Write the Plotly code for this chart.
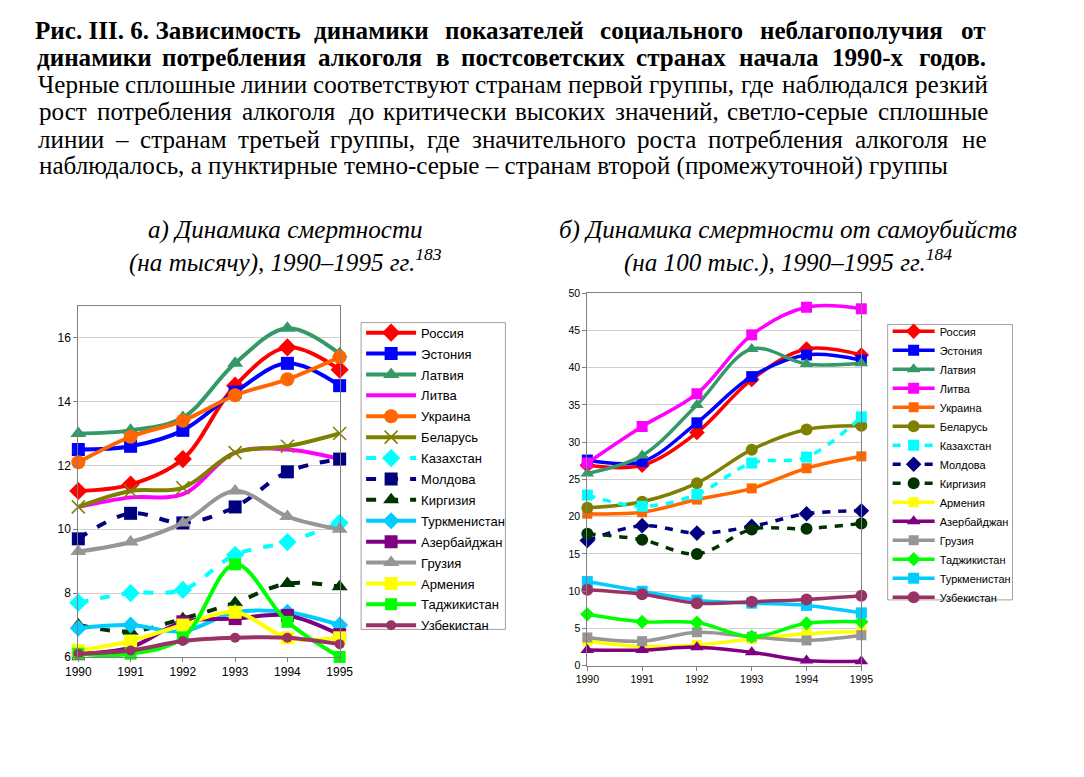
import os
import glob
import plotly.graph_objects as go

# ---------------- DATA ----------------
years = [1990, 1991, 1992, 1993, 1994, 1995]
year_labels = ["1990", "1991", "1992", "1993", "1994", "1995"]

# a) Mortality per 1000
left_countries = ["Россия", "Эстония", "Латвия", "Литва", "Украина", "Беларусь",
                  "Казахстан", "Молдова", "Киргизия", "Туркменистан", "Азербайджан",
                  "Грузия", "Армения", "Таджикистан", "Узбекистан"]
mort_russia = [11.2, 11.4, 12.2, 14.5, 15.7, 15.0]
mort_estonia = [12.5, 12.6, 13.1, 14.3, 15.2, 14.5]
mort_latvia = [13.0, 13.1, 13.5, 15.2, 16.3, 15.5]
mort_lithuania = [10.7, 11.0, 11.1, 12.4, 12.5, 12.2]
mort_ukraine = [12.1, 12.9, 13.4, 14.2, 14.7, 15.4]
mort_belarus = [10.7, 11.2, 11.3, 12.4, 12.6, 13.0]
mort_kazakhstan = [7.7, 8.0, 8.1, 9.2, 9.6, 10.2]
mort_moldova = [9.7, 10.5, 10.2, 10.7, 11.8, 12.2]
mort_kirgizia = [7.0, 6.8, 7.2, 7.7, 8.3, 8.2]
mort_turkmenistan = [6.9, 7.0, 6.8, 7.4, 7.4, 7.0]
mort_azerbaijan = [6.1, 6.3, 7.1, 7.2, 7.3, 6.7]
mort_georgia = [9.3, 9.6, 10.2, 11.2, 10.4, 10.0]
mort_armenia = [6.2, 6.5, 7.0, 7.4, 6.6, 6.6]
mort_tajikistan = [6.1, 6.1, 6.6, 8.9, 7.1, 6.0]
mort_uzbekistan = [6.1, 6.2, 6.5, 6.6, 6.6, 6.4]

# б) Suicide mortality per 100 000
right_countries = ["Россия", "Эстония", "Латвия", "Литва", "Украина", "Беларусь",
                   "Казахстан", "Молдова", "Киргизия", "Армения", "Азербайджан",
                   "Грузия", "Таджикистан", "Туркменистан", "Узбекистан"]
suic_russia = [26.9, 26.9, 31.3, 38.4, 42.5, 41.7]
suic_estonia = [27.6, 27.4, 32.6, 38.8, 41.7, 41.0]
suic_latvia = [25.8, 28.2, 35.0, 42.5, 40.5, 40.6]
suic_lithuania = [27.2, 32.1, 36.5, 44.4, 48.1, 47.9]
suic_ukraine = [20.4, 20.6, 22.3, 23.8, 26.5, 28.1]
suic_belarus = [21.2, 22.0, 24.5, 29.0, 31.7, 32.2]
suic_kazakhstan = [22.9, 21.4, 23.0, 27.2, 28.0, 33.4]
suic_moldova = [16.8, 18.8, 17.8, 18.7, 20.4, 20.8]
suic_kirgizia = [17.7, 16.9, 15.0, 18.3, 18.4, 19.1]
suic_armenia = [3.3, 2.6, 2.8, 3.6, 4.3, 4.6]
suic_azerbaijan = [2.1, 2.1, 2.5, 1.8, 0.7, 0.6]
suic_georgia = [3.8, 3.3, 4.5, 3.9, 3.4, 4.1]
suic_tajikistan = [6.9, 5.9, 5.8, 3.9, 5.7, 5.9]
suic_turkmenistan = [11.3, 10.0, 8.8, 8.4, 8.1, 7.1]
suic_uzbekistan = [10.2, 9.6, 8.4, 8.6, 8.9, 9.4]

left_values = {
    "Россия": mort_russia, "Эстония": mort_estonia, "Латвия": mort_latvia,
    "Литва": mort_lithuania, "Украина": mort_ukraine, "Беларусь": mort_belarus,
    "Казахстан": mort_kazakhstan, "Молдова": mort_moldova, "Киргизия": mort_kirgizia,
    "Туркменистан": mort_turkmenistan, "Азербайджан": mort_azerbaijan,
    "Грузия": mort_georgia, "Армения": mort_armenia, "Таджикистан": mort_tajikistan,
    "Узбекистан": mort_uzbekistan,
}
right_values = {
    "Россия": suic_russia, "Эстония": suic_estonia, "Латвия": suic_latvia,
    "Литва": suic_lithuania, "Украина": suic_ukraine, "Беларусь": suic_belarus,
    "Казахстан": suic_kazakhstan, "Молдова": suic_moldova, "Киргизия": suic_kirgizia,
    "Армения": suic_armenia, "Азербайджан": suic_azerbaijan, "Грузия": suic_georgia,
    "Таджикистан": suic_tajikistan, "Туркменистан": suic_turkmenistan,
    "Узбекистан": suic_uzbekistan,
}

caption_lines = [
    (True, "Рис.\u00a0III.\u00a06.\u00a0Зависимость динамики показателей социального неблагополучия от"),
    (True, "динамики потребления алкоголя в постсоветских странах начала 1990-х годов."),
    (False, "Черные сплошные линии соответствуют странам первой группы, где наблюдался резкий"),
    (False, "рост потребления алкоголя до критически высоких значений, светло-серые сплошные"),
    (False, "линии – странам третьей группы, где значительного роста потребления алкоголя не"),
    (False, "наблюдалось, а пунктирные темно-серые – странам второй (промежуточной) группы"),
]
title_left = "а) Динамика смертности<br>(на тысячу), 1990–1995 гг.<sup>183</sup>"
title_right = "б) Динамика смертности от самоубийств<br>(на 100 тыс.), 1990–1995 гг.<sup>184</sup>"

# ---------------- STYLES ----------------
colors = {
    "Россия": "#FF0000", "Эстония": "#0000FF", "Латвия": "#339966", "Литва": "#FF00FF",
    "Украина": "#FF6600", "Беларусь": "#808000", "Казахстан": "#00FFFF",
    "Молдова": "#000080", "Киргизия": "#003300", "Туркменистан": "#00CCFF",
    "Азербайджан": "#800080", "Грузия": "#969696", "Армения": "#FFFF00",
    "Таджикистан": "#00FF00", "Узбекистан": "#993366",
}
dashed = {"Казахстан", "Молдова", "Киргизия"}
left_symbols = {
    "Россия": ("diamond", 14), "Эстония": ("square", 13), "Латвия": ("triangle-up", 14),
    "Литва": (None, 0), "Украина": ("circle", 14), "Беларусь": ("x-thin", 13),
    "Казахстан": ("diamond", 14), "Молдова": ("square", 13), "Киргизия": ("triangle-up", 14),
    "Туркменистан": ("diamond", 13), "Азербайджан": ("square", 13),
    "Грузия": ("triangle-up", 14), "Армения": ("square", 13), "Таджикистан": ("square", 12),
    "Узбекистан": ("circle", 10),
}
right_symbols = {
    "Россия": ("diamond", 12), "Эстония": ("square", 11), "Латвия": ("triangle-up", 12),
    "Литва": ("square", 11), "Украина": ("square", 10), "Беларусь": ("circle", 12),
    "Казахстан": ("square", 11), "Молдова": ("diamond", 12), "Киргизия": ("circle", 12),
    "Армения": ("square", 10), "Азербайджан": ("triangle-up", 12), "Грузия": ("square", 10),
    "Таджикистан": ("diamond", 11), "Туркменистан": ("square", 11), "Узбекистан": ("circle", 12),
}

W, H = 1084, 777
SERIF = "Liberation Serif, Times New Roman, serif"
SANS = "Liberation Sans, Arial, sans-serif"


def px(x):
    return x / W


def py(y):
    return 1 - y / H


# ---------------- text measurement for justified caption ----------------
def find_font(name):
    for d in ["/usr/share/fonts", "/usr/local/share/fonts", os.path.expanduser("~/.fonts")]:
        hits = glob.glob(os.path.join(d, "**", name), recursive=True)
        if hits:
            return hits[0]
    return None


_adv_cache = {}


def _advance_fn(bold):
    if bold in _adv_cache:
        return _adv_cache[bold]
    fn = None
    path = find_font("LiberationSerif-Bold.ttf" if bold else "LiberationSerif-Regular.ttf")
    if path:
        try:
            from PIL import ImageFont
            f = ImageFont.truetype(path, 1000)
            cache = {}

            def fn(ch, f=f, cache=cache):
                if ch not in cache:
                    cache[ch] = f.getlength(ch) / 1000.0
                return cache[ch]
        except Exception:
            fn = None
    if fn is None:
        def fn(ch):
            return 0.5 * (1.06 if bold else 1.0)
    _adv_cache[bold] = fn
    return fn


def text_width(s, bold, size):
    adv = _advance_fn(bold)
    return sum(round(adv(ch) * size) for ch in s)


LEFT_EDGE, RIGHT_EDGE = 27, 998
last_line_end = 933
target = last_line_end - LEFT_EDGE
best = None
for k in range(200, 281):
    s = k / 10.0
    d = abs(text_width(caption_lines[-1][1], False, s) - target)
    if best is None or d < best[0]:
        best = (d, s)
font_size = best[1]

fig = go.Figure()

# ---------------- traces ----------------
for c in left_countries:
    sym, sz = left_symbols[c]
    mode = "lines+markers" if sym else "lines"
    marker = dict(symbol=sym, size=sz, color=colors[c]) if sym else None
    if sym == "x-thin":
        marker["line"] = dict(color=colors[c], width=1.6)
    fig.add_trace(go.Scatter(
        x=years, y=left_values[c], name=c, mode=mode,
        line=dict(color=colors[c], width=4, shape="spline", smoothing=1.0,
                  dash="10px,12px" if c in dashed else "solid"),
        marker=marker, xaxis="x", yaxis="y", legend="legend",
        legendgroup="L" + c, cliponaxis=False,
    ))

for c in right_countries:
    sym, sz = right_symbols[c]
    fig.add_trace(go.Scatter(
        x=years, y=right_values[c], name=c, mode="lines+markers",
        line=dict(color=colors[c], width=3.5, shape="spline", smoothing=1.0,
                  dash="8px,8px" if c in dashed else "solid"),
        marker=dict(symbol=sym, size=sz, color=colors[c]),
        xaxis="x2", yaxis="y2", legend="legend2",
        legendgroup="R" + c, cliponaxis=False,
    ))

axis_common = dict(showline=True, linecolor="#808080", linewidth=1, mirror=True,
                   ticks="outside", tickcolor="#808080", ticklen=4,
                   zeroline=False)

fig.update_layout(
    width=W, height=H,
    margin=dict(l=0, r=0, t=0, b=0),
    paper_bgcolor="white", plot_bgcolor="white",
    showlegend=True,
    xaxis=dict(domain=[px(67), px(335)], range=[1990, 1995], tickvals=years,
               ticktext=year_labels, showgrid=False, anchor="y",
               tickfont=dict(family=SANS, size=12, color="#000"), **axis_common),
    yaxis=dict(domain=[py(662), py(305)], range=[6, 17], tickvals=[6, 8, 10, 12, 14, 16],
               showgrid=True, gridcolor="#d0d0d0", gridwidth=1, anchor="x",
               tickfont=dict(family=SANS, size=12, color="#000"), **axis_common),
    xaxis2=dict(domain=[px(589), px(870)], range=[1990, 1995], tickvals=years,
                ticktext=year_labels, showgrid=False, anchor="y2",
                tickfont=dict(family=SANS, size=10.5, color="#000"), **axis_common),
    yaxis2=dict(domain=[py(671), py(292)], range=[0, 50], dtick=5,
                showgrid=True, gridcolor="#d0d0d0", gridwidth=1, anchor="x2",
                tickfont=dict(family=SANS, size=10.5, color="#000"), **axis_common),
    legend=dict(x=px(357), y=py(317), xanchor="left", yanchor="top",
                bgcolor="rgba(0,0,0,0)", borderwidth=0,
                font=dict(family=SANS, size=13, color="#000"),
                itemwidth=50, traceorder="grouped", tracegroupgap=1,
                itemclick=False, itemdoubleclick=False),
    legend2=dict(x=px(897), y=py(316), xanchor="left", yanchor="top",
                 bgcolor="rgba(0,0,0,0)", borderwidth=0,
                 font=dict(family=SANS, size=11, color="#000"),
                 itemwidth=42, traceorder="grouped", tracegroupgap=0,
                 itemclick=False, itemdoubleclick=False),
    shapes=[
        dict(type="rect", xref="paper", yref="paper", layer="below",
             x0=px(357), x1=px(505), y0=py(634), y1=py(322),
             line=dict(color="#a0a0a0", width=1), fillcolor="rgba(0,0,0,0)"),
        dict(type="rect", xref="paper", yref="paper", layer="below",
             x0=px(897), x1=px(1025), y0=py(604), y1=py(324),
             line=dict(color="#a0a0a0", width=1), fillcolor="rgba(0,0,0,0)"),
    ],
)

# ---------------- caption (justified word by word) ----------------
annotations = []
line_y0, line_step = 25, 27.6
for i, (bold, line) in enumerate(caption_lines):
    y = line_y0 + i * line_step
    fnt = dict(family=SERIF, size=font_size, color="#000")
    if i == len(caption_lines) - 1:
        annotations.append(dict(x=px(LEFT_EDGE), y=py(y), xref="paper", yref="paper",
                                text=line, showarrow=False, xanchor="left", yanchor="middle",
                                font=fnt, borderpad=0, borderwidth=0))
        continue
    words = line.split(" ")
    widths = [text_width(w, bold, font_size) for w in words]
    gap = (RIGHT_EDGE - LEFT_EDGE - sum(widths)) / (len(words) - 1)
    xcur = LEFT_EDGE
    for w, wd in zip(words, widths):
        txt = "<b>" + w + "</b>" if bold else w
        annotations.append(dict(x=px(xcur + wd / 2), y=py(y), xref="paper", yref="paper",
                                text=txt, showarrow=False, xanchor="center", yanchor="middle",
                                font=fnt, borderpad=0, borderwidth=0))
        xcur += wd + gap

annotations.append(dict(x=px(279), y=py(245), xref="paper", yref="paper", text="<i>" + title_left + "</i>",
                        showarrow=False, xanchor="center", yanchor="middle",
                        font=dict(family=SERIF, size=font_size, color="#000"), borderpad=0))
annotations.append(dict(x=px(795), y=py(245), xref="paper", yref="paper", text="<i>" + title_right + "</i>",
                        showarrow=False, xanchor="center", yanchor="middle",
                        font=dict(family=SERIF, size=font_size, color="#000"), borderpad=0))
fig.update_layout(annotations=annotations)

fig.write_html("out.html", config={"displayModeBar": False},
               post_script="document.body.style.margin='0px';")
